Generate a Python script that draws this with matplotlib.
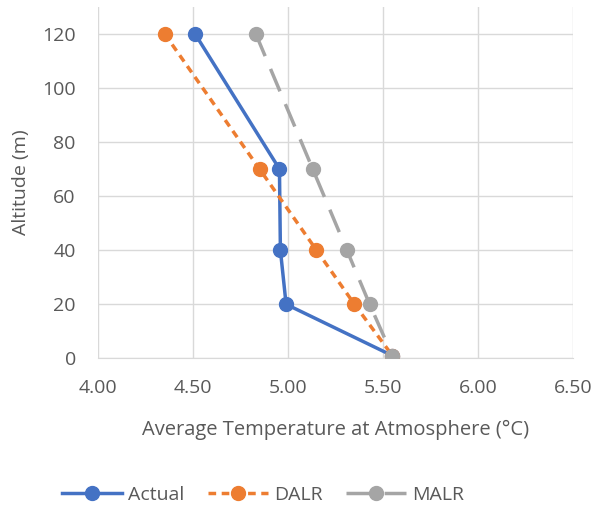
import matplotlib
matplotlib.use("Agg")
import matplotlib.pyplot as plt
from matplotlib.ticker import MultipleLocator, FormatStrFormatter

plt.rcParams['font.family'] = ['Open Sans', 'DejaVu Sans']

altitude = [120, 70, 40, 20, 1]
actual = [4.51, 4.955, 4.96, 4.99, 5.55]
dalr = [4.35, 4.85, 5.15, 5.35, 5.55]
malr = [4.83, 5.13, 5.31, 5.43, 5.55]

text_col = '#595959'

fig = plt.figure(figsize=(5.98, 5.12), dpi=100)
ax = fig.add_axes([0.164, 0.30, 0.794, 0.687])

ax.plot(actual, altitude, color='#4472C4', lw=2.5, marker='o', ms=10, label='Actual', zorder=2)
ax.plot(dalr, altitude, color='#ED7D31', lw=2.5, marker='o', ms=10, ls=(0, (2.2, 1.6)), label='DALR', zorder=3)
ax.plot(malr, altitude, color='#A5A5A5', lw=2.5, marker='o', ms=10, ls=(0, (7, 4)), label='MALR', zorder=4)

ax.set_xlim(4.0, 6.5)
ax.set_ylim(0, 130)
ax.xaxis.set_major_locator(MultipleLocator(0.5))
ax.set_yticks(range(0, 121, 20))
ax.xaxis.set_major_formatter(FormatStrFormatter('%.2f'))
ax.grid(True, color='#D9D9D9', lw=1)
ax.set_axisbelow(True)
for s in ['top', 'right', 'left']:
    ax.spines[s].set_visible(False)
ax.spines['bottom'].set_color('#D9D9D9')
ax.tick_params(length=0, labelsize=14, colors=text_col)
ax.tick_params(axis='x', pad=15)
ax.tick_params(axis='y', pad=16)

ax.set_xlabel('Average Temperature at Atmosphere (°C)', fontsize=14.5, color=text_col, labelpad=16)
ax.set_ylabel('Altitude (m)', fontsize=14, color=text_col, labelpad=9)

fig.legend(loc='center', bbox_to_anchor=(263 / 598, 1 - 495 / 512), ncol=3, frameon=False,
           fontsize=14, labelcolor=text_col, handlelength=3.1, columnspacing=1.2, handletextpad=0.3)

fig.savefig('out.png', dpi=100)
